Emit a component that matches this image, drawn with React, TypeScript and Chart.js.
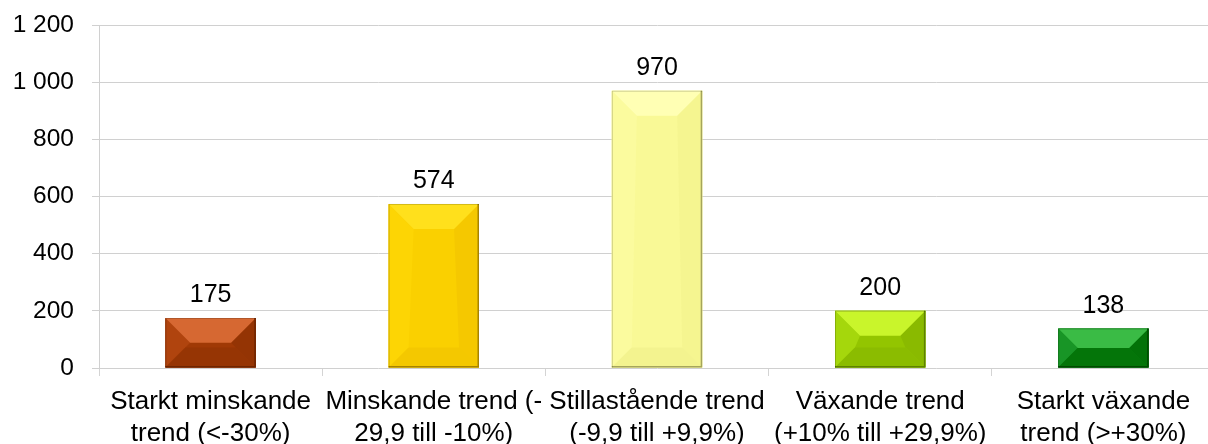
import React, { useEffect, useRef } from "react";
import { Chart, registerables } from "chart.js";

Chart.register(...registerables);

const categories: string[][] = [
  ["Starkt minskande", "trend (<-30%)"],
  ["Minskande trend (-", "29,9 till -10%)"],
  ["Stillastående trend", "(-9,9 till +9,9%)"],
  ["Växande trend", "(+10% till +29,9%)"],
  ["Starkt växande", "trend (>+30%)"],
];
const values: number[] = [175, 574, 970, 200, 138];
const yTicks: number[] = [0, 200, 400, 600, 800, 1000, 1200];

// face colours per bar: [center, top, left, right, bottom, border]
const barFaces: string[][] = [
  ["#A03905", "#D66832", "#B0440E", "#943404", "#963504", "#6E2500"],
  ["#FAD000", "#FFE01C", "#FDD504", "#F5C800", "#F4C800", "#A78300"],
  ["#F9F996", "#FFFFB4", "#FBFB9E", "#F5F590", "#F3F38F", "#A5A55C"],
  ["#93C500", "#C9F52B", "#A5D70C", "#8ABA00", "#8BBC00", "#5E8200"],
  ["#077C11", "#3ABB45", "#189526", "#037208", "#047509", "#004A00"],
];

const FONT = "'Liberation Sans', Arial, sans-serif";

const fmt = (v: number) => String(v).replace(/\B(?=(\d{3})+(?!\d))/g, " ");

const bevelPlugin = {
  id: "bevel",
  afterDatasetsDraw(chart: any) {
    const ctx = chart.ctx;
    const meta = chart.getDatasetMeta(0);
    meta.data.forEach((el: any, i: number) => {
      const p = el.getProps(["x", "y", "base", "width"], true);
      const l = p.x - p.width / 2;
      const r = p.x + p.width / 2;
      const t = Math.min(p.y, p.base);
      const b = Math.max(p.y, p.base);
      const h = b - t;
      const bv = Math.min(25, h / 2, p.width / 2);
      const bb = Math.min(20, h / 2, p.width / 2);
      const c = barFaces[i];
      const poly = (pts: number[][], col: string) => {
        ctx.beginPath();
        ctx.moveTo(pts[0][0], pts[0][1]);
        for (let k = 1; k < pts.length; k++) ctx.lineTo(pts[k][0], pts[k][1]);
        ctx.closePath();
        ctx.fillStyle = col;
        ctx.fill();
      };
      ctx.save();
      const it = t + bv;
      const ib = Math.max(it, b - bb);
      poly([[l, t], [r, t], [r, b], [l, b]], c[0]);
      poly([[l, t], [l + bv, it], [l + bb, ib], [l, b]], c[2]);
      poly([[r, t], [r - bv, it], [r - bb, ib], [r, b]], c[3]);
      poly([[l, b], [l + bb, ib], [r - bb, ib], [r, b]], c[4]);
      poly([[l, t], [r, t], [r - bv, it], [l + bv, it]], c[1]);
      ctx.strokeStyle = c[5];
      ctx.lineWidth = 1.5;
      ctx.beginPath();
      ctx.moveTo(r - 0.75, t);
      ctx.lineTo(r - 0.75, b - 0.75);
      ctx.lineTo(l, b - 0.75);
      ctx.stroke();
      ctx.lineWidth = 1;
      ctx.beginPath();
      ctx.moveTo(l + 0.5, b);
      ctx.lineTo(l + 0.5, t + 0.5);
      ctx.lineTo(r, t + 0.5);
      ctx.strokeStyle = "rgba(0,0,0,0.18)";
      ctx.stroke();
      ctx.fillStyle = "#000";
      ctx.font = `25px ${FONT}`;
      ctx.textAlign = "center";
      ctx.textBaseline = "alphabetic";
      ctx.fillText(String(values[i]), p.x, t - 16);
      ctx.restore();
    });
  },
};

export default function App() {
  const ref = useRef<HTMLCanvasElement | null>(null);
  useEffect(() => {
    document.body.style.margin = "0";
    if (!ref.current) return;
    const chart = new Chart(ref.current, {
      type: "bar",
      data: {
        labels: categories,
        datasets: [
          {
            data: values,
            backgroundColor: barFaces.map((f) => f[0]),
            borderWidth: 0,
            barPercentage: 0.405,
            categoryPercentage: 1,
          },
        ],
      },
      options: {
        animation: false,
        responsive: false,
        maintainAspectRatio: false,
        layout: { padding: { top: 25, right: 0, left: 0, bottom: 0 } },
        plugins: {
          legend: { display: false },
          tooltip: { enabled: false },
        },
        scales: {
          x: {
            offset: true,
            grid: {
              display: true,
              offset: true,
              drawOnChartArea: false,
              drawTicks: true,
              tickLength: 8,
              color: "#d4d4d4",
            },
            border: { display: false },
            ticks: {
              color: "#000",
              font: { family: FONT, size: 26, lineHeight: 1.22 },
              padding: 10,
              maxRotation: 0,
              autoSkip: false,
            },
            afterFit(scale: any) {
              scale.height = 76;
            },
          },
          y: {
            min: 0,
            max: 1200,
            afterBuildTicks(scale: any) {
              scale.ticks = yTicks.map((v) => ({ value: v }));
            },
            grid: {
              color: "#d0d0d0",
              tickLength: 7,
            },
            border: { display: true, color: "#d0d0d0" },
            ticks: {
              color: "#000",
              font: { family: FONT, size: 24.5, lineHeight: 0.4 },
              padding: 18,
              callback: (v: any) => fmt(Number(v)),
            },
            afterFit(scale: any) {
              scale.width = 99;
            },
          },
        },
      },
      plugins: [bevelPlugin],
    });
    return () => chart.destroy();
  }, []);
  return (
    <div style={{ width: 1208, height: 444, overflow: "hidden" }}>
      <div style={{ width: 1215, height: 444 }}>
        <canvas ref={ref} width={1215} height={444} style={{ width: 1215, height: 444, display: "block" }} />
      </div>
    </div>
  );
}
